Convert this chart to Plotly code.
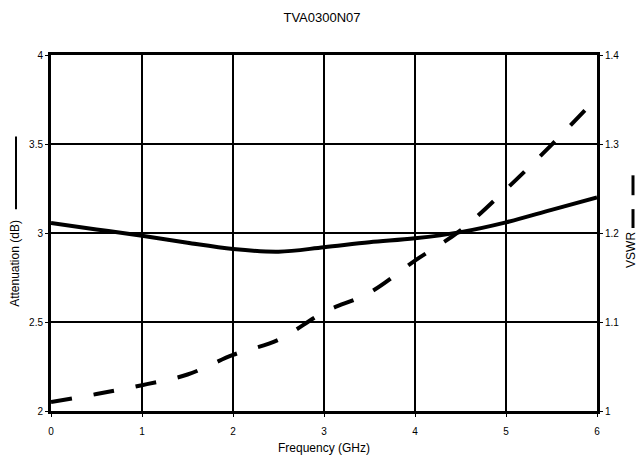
import plotly.graph_objects as go

freq = [0, 0.5, 1, 1.5, 2, 2.5, 3, 3.5, 4, 4.5, 5, 5.5, 6]
attenuation_db = [3.056, 3.02, 2.985, 2.945, 2.91, 2.895, 2.92, 2.948, 2.97, 3.005, 3.06, 3.13, 3.20]
vswr = [1.010, 1.019, 1.029, 1.041, 1.063, 1.080, 1.111, 1.133, 1.169, 1.203, 1.249, 1.299, 1.352]

x_ticks = [0, 1, 2, 3, 4, 5, 6]
att_ticks = [2, 2.5, 3, 3.5, 4]
vswr_ticks = [1, 1.1, 1.2, 1.3, 1.4]

FONT = "Arial, Liberation Sans, sans-serif"

fig = go.Figure()
fig.add_trace(go.Scatter(x=freq, y=attenuation_db, mode="lines",
                         line=dict(color="black", width=4, shape="spline"),
                         showlegend=False, yaxis="y"))
fig.add_trace(go.Scatter(x=freq, y=vswr, mode="lines",
                         line=dict(color="black", width=4, shape="spline", dash="21px,22px"),
                         showlegend=False, yaxis="y2"))

L, R, T, B = 51, 43, 55, 52
W, H = 640, 465
pw, ph = W - L - R, H - T - B

fig.update_layout(
    width=W, height=H,
    margin=dict(l=L, r=R, t=T, b=B),
    paper_bgcolor="white", plot_bgcolor="white",
    font=dict(family=FONT, color="black"),
    title=dict(text="TVA0300N07", x=(322) / W, xanchor="center",
               y=1 - 17 / H, yanchor="middle", font=dict(size=13, family=FONT)),
    xaxis=dict(range=[0, 6], tickvals=x_ticks, ticktext=[str(v) for v in x_ticks],
               showgrid=True, gridcolor="black", gridwidth=2,
               showline=True, linecolor="black", linewidth=3, mirror=True,
               ticks="outside", ticklen=3, tickcolor="black", tickwidth=1,
               ticklabelstandoff=6,
               tickfont=dict(size=10), zeroline=False,
               title=dict(text="Frequency (GHz)", font=dict(size=12), standoff=8)),
    yaxis=dict(range=[2, 4], tickvals=att_ticks, ticktext=["2", "2.5", "3", "3.5", "4"],
               showgrid=True, gridcolor="black", gridwidth=2,
               showline=True, linecolor="black", linewidth=3,
               ticks="outside", ticklen=3, tickcolor="black", tickwidth=1,
               tickfont=dict(size=10), zeroline=False),
    yaxis2=dict(range=[1, 1.4], tickvals=vswr_ticks, ticktext=["1", "1.1", "1.2", "1.3", "1.4"],
                overlaying="y", side="right", showgrid=False,
                showline=True, linecolor="black", linewidth=3,
                ticks="outside", ticklen=3, tickcolor="black", tickwidth=1,
                tickfont=dict(size=10), zeroline=False),
)

def px(xp):
    return (xp - L) / pw

def py(yp):
    return (H - B - yp) / ph

fig.add_annotation(text="Attenuation (dB)", xref="paper", yref="paper",
                   x=px(15), y=py(265), textangle=-90, showarrow=False,
                   xanchor="center", yanchor="middle", font=dict(size=12, family=FONT))
fig.add_annotation(text="VSWR", xref="paper", yref="paper",
                   x=px(631), y=py(251), textangle=-90, showarrow=False,
                   xanchor="center", yanchor="middle", font=dict(size=12, family=FONT))

fig.add_shape(type="line", xref="paper", yref="paper",
              x0=px(16), x1=px(16), y0=py(137), y1=py(210),
              line=dict(color="black", width=2))
fig.add_shape(type="line", xref="paper", yref="paper",
              x0=px(633), x1=px(633), y0=py(176), y1=py(196),
              line=dict(color="black", width=3))
fig.add_shape(type="line", xref="paper", yref="paper",
              x0=px(633), x1=px(633), y0=py(210), y1=py(229),
              line=dict(color="black", width=3))

fig.write_html("out.html",
               config={"displayModeBar": False},
               post_script="document.body.style.margin='0';document.body.style.overflow='hidden';")
